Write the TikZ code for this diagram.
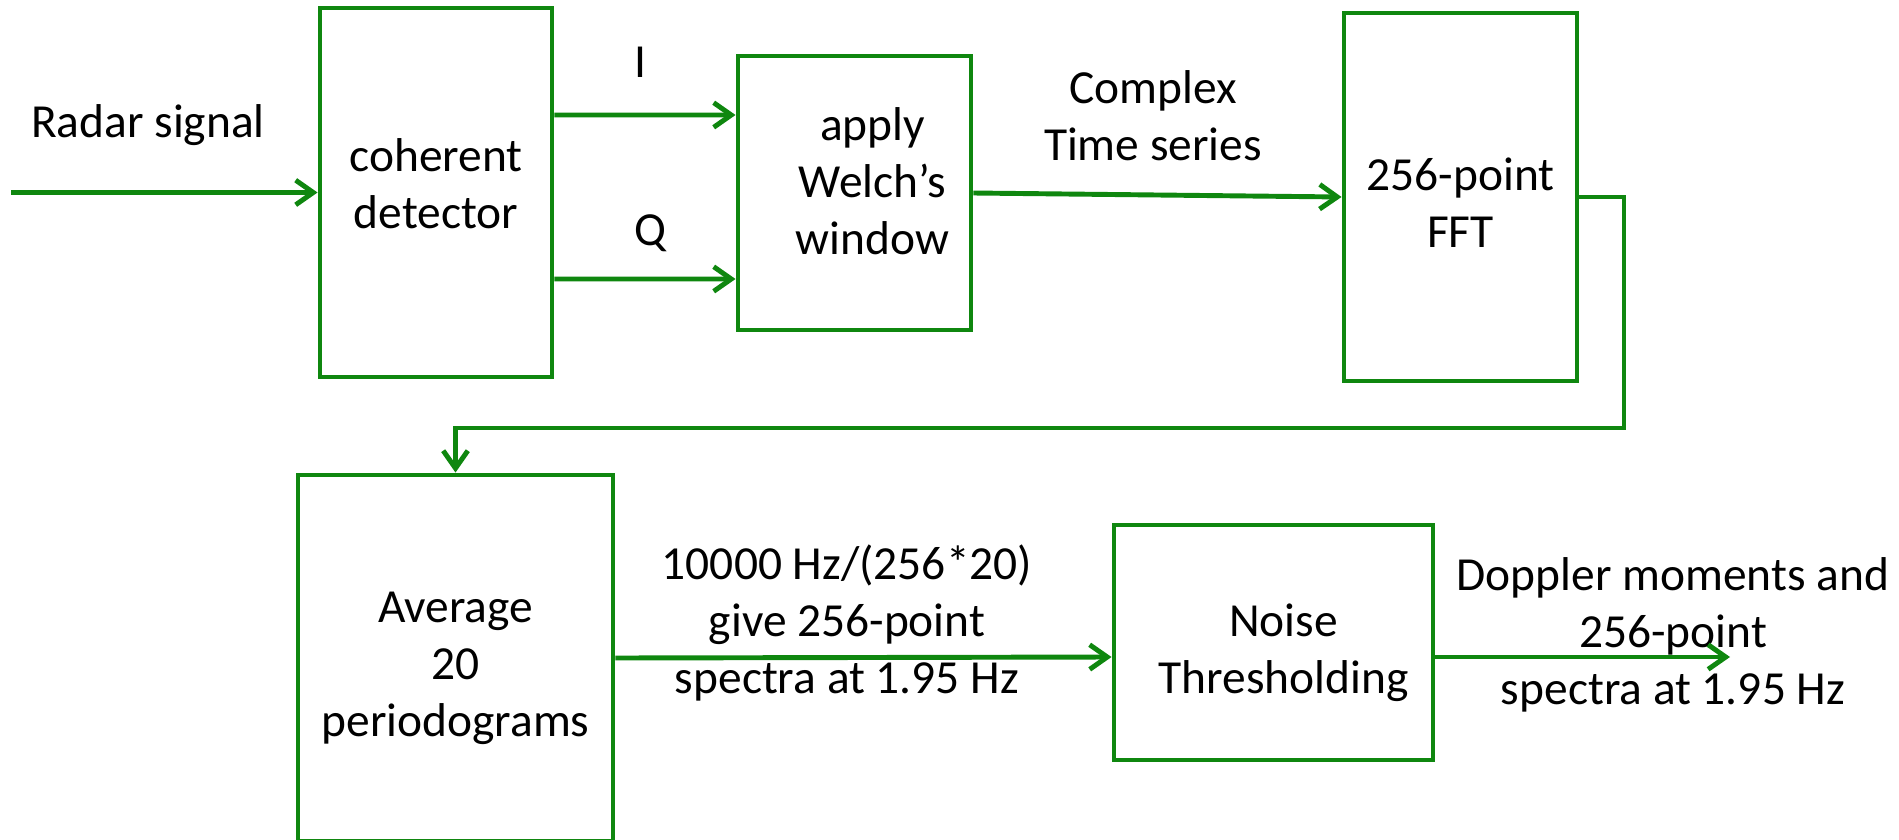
\documentclass[tikz,border=0pt]{standalone}
\usepackage{fontspec}
\setmainfont{Carlito}
\usetikzlibrary{arrows.meta, positioning}
\definecolor{linegreen}{HTML}{0F870F}

\begin{document}
\begin{tikzpicture}[
    blk/.style={draw=linegreen, line width=1.4pt, inner sep=0pt},
    arr/.style={draw=linegreen, line width=1.4pt, -{Straight Barb[length=5pt, width=7pt, line width=1.4pt]}},
    lbl/.style={align=center, font=\fontsize{13.5}{16.2}\selectfont}
  ]
  \useasboundingbox (0,0) rectangle (18.99,-8.40);

  % Upper row
  \node[blk, minimum width=2.32cm, minimum height=3.69cm,
    label={[lbl, yshift=0.09cm]center:{coherent\\detector}}] (coh) at (4.36,-1.925) {};
  \node[blk, minimum width=2.33cm, minimum height=2.74cm,
    label={[lbl, xshift=0.18cm, yshift=0.12cm]center:{apply\\Welch’s\\window}}] (welch) at (8.545,-1.93) {};
  \node[blk, minimum width=2.33cm, minimum height=3.68cm,
    label={[lbl, yshift=-0.06cm]center:{256-point\\FFT}}] (fft) at (14.605,-1.97) {};

  % Lower row
  \node[blk, minimum width=3.15cm, minimum height=3.66cm,
    label={[lbl, yshift=-0.1cm]center:{Average\\20\\periodograms}}] (avg) at (4.555,-6.58) {};
  \node[blk, minimum width=3.19cm, minimum height=2.35cm,
    label={[lbl, xshift=0.1cm, yshift=-0.1cm]center:{Noise\\Thresholding}}] (noise) at (12.735,-6.425) {};

  % Free ends
  \coordinate (in) at (0.11,-1.925);
  \coordinate (loop) at (16.24,-4.28);
  \coordinate (out) at (17.30,-6.57);

  % Labels
  \node[lbl] (radar) at (1.48,-1.25) {Radar signal};
  \node[lbl] (ilbl) at (6.40,-0.62) {I};
  \node[lbl] (qlbl) at (6.50,-2.33) {Q};
  \node[lbl] (cts) at (11.53,-1.16) {Complex\\Time series};
  \node[lbl] (spec) at (8.47,-6.23) {10000 Hz/(256*20)\\give 256-point\\spectra at 1.95 Hz};
  \node[lbl] (dopp) at (16.73,-6.35) {Doppler moments and\\256-point\\spectra at 1.95 Hz};

  % Connectors
  \draw[arr] (in) -- (coh.west);
  \draw[arr] ([yshift=0.775cm]coh.east) -- ([yshift=0.78cm]welch.west);
  \draw[arr] ([yshift=-0.865cm]coh.east) -- ([yshift=-0.86cm]welch.west);
  \draw[arr] (welch.east) -- (fft.west);
  \draw[arr] (fft.east) -| (loop) -| (avg.north);
  \draw[arr] (avg.east) -- ([yshift=-0.145cm]noise.west);
  \draw[arr] ([yshift=-0.145cm]noise.east) -- (out);
\end{tikzpicture}
\end{document}
